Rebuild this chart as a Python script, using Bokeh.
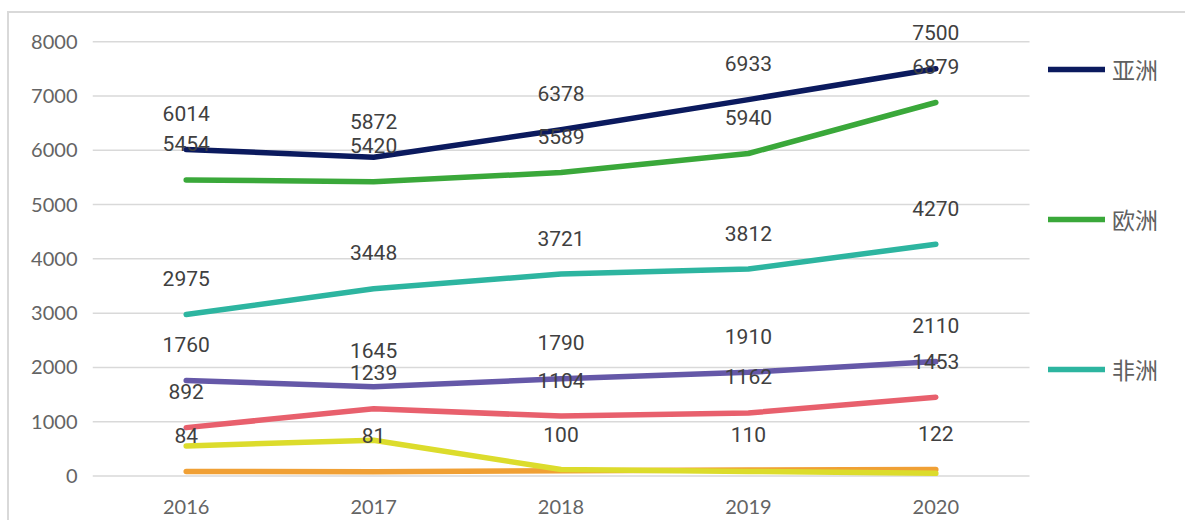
from bokeh.plotting import figure
from bokeh.models import ColumnDataSource, Range1d, FixedTicker, Legend, LegendItem
from bokeh.core.properties import value
from bokeh.embed import file_html
from bokeh.resources import INLINE

years = ["2016", "2017", "2018", "2019", "2020"]
y_ticks = [0, 1000, 2000, 3000, 4000, 5000, 6000, 7000, 8000]

asia = [6014, 5872, 6378, 6933, 7500]
europe = [5454, 5420, 5589, 5940, 6879]
africa = [2975, 3448, 3721, 3812, 4270]
purple_s = [1760, 1645, 1790, 1910, 2110]
red_s = [892, 1239, 1104, 1162, 1453]
orange_s = [84, 81, 100, 110, 122]
yellow_s = [555, 660, 120, 85, 50]

series_names = ["亚洲", "欧洲", "非洲", "北美洲", "南美洲", "大洋洲", "其他"]
series_vals = [asia, europe, africa, purple_s, red_s, orange_s, yellow_s]
series_colors = ["#0b1a5e", "#3aa83a", "#2db5a0", "#6558a8", "#e8606d", "#f0a035", "#dcdc2c"]
show_labels = [True, True, True, True, True, True, False]
legend_names = ["亚洲", "欧洲", "非洲"]

xs = list(range(len(years)))
n = len(years)

p = figure(
    x_range=Range1d(-0.5, 5.343),
    y_range=Range1d(-100, 8500),
    width=1178, height=509,
    output_backend="svg", toolbar_location=None,
    min_border_left=83, min_border_right=0, min_border_top=1, min_border_bottom=41,
)
p.margin = (11, 0, 0, 7)
p.styles = {"border-top": "2px solid #d9d9d9", "border-left": "2px solid #d9d9d9"}
p.outline_line_color = None
p.background_fill_color = "white"
p.border_fill_color = "white"

p.yaxis.ticker = FixedTicker(ticks=y_ticks)
p.xaxis.ticker = FixedTicker(ticks=xs)
p.xaxis.major_label_overrides = {i: y for i, y in zip(xs, years)}
p.ygrid.grid_line_color = None
p.xgrid.grid_line_color = None
for ax in (p.xaxis, p.yaxis):
    ax.axis_line_color = None
    ax.major_tick_line_color = None
    ax.minor_tick_line_color = None
    ax.major_tick_out = 0
    ax.major_tick_in = 0
    ax.major_label_text_font = "Lato"
    ax.major_label_text_font_size = "20px"
    ax.major_label_text_color = "#646464"
p.yaxis.major_label_standoff = 15
p.xaxis.major_label_standoff = 18

# horizontal grid lines limited to the category band
p.segment(x0=[-0.5] * len(y_ticks), x1=[n - 0.5] * len(y_ticks), y0=y_ticks, y1=y_ticks,
          line_color="#d9d9d9", line_width=1.5)

renderers = []
for name, vals, col in zip(series_names, series_vals, series_colors):
    src = ColumnDataSource(dict(x=xs, y=vals, t=[str(v) for v in vals]))
    r = p.line("x", "y", source=src, line_color=col, line_width=5.5,
               line_cap="round", line_join="round")
    renderers.append((name, r, src))

for (name, r, src), show in zip(renderers, show_labels):
    if show:
        p.text("x", "y", text="t", source=src, y_offset=-36,
               text_align="center", text_baseline="middle",
               text_font=value("Roboto"), text_font_size="21px", text_color="#404040")

items = [LegendItem(label=name, renderers=[r]) for name, (nm, r, src) in zip(legend_names, renderers[:3])]
lg = Legend(items=items, location=(956, 95),
            padding=0, margin=0, spacing=116,
            glyph_width=57, glyph_height=24, label_height=24, label_standoff=7,
            label_text_font="Noto Sans CJK SC", label_text_font_size="23px",
            label_text_color="#606060", background_fill_alpha=0,
            border_line_color=None)
p.add_layout(lg, "center")

open("out.html", "w").write(file_html(p, INLINE))
